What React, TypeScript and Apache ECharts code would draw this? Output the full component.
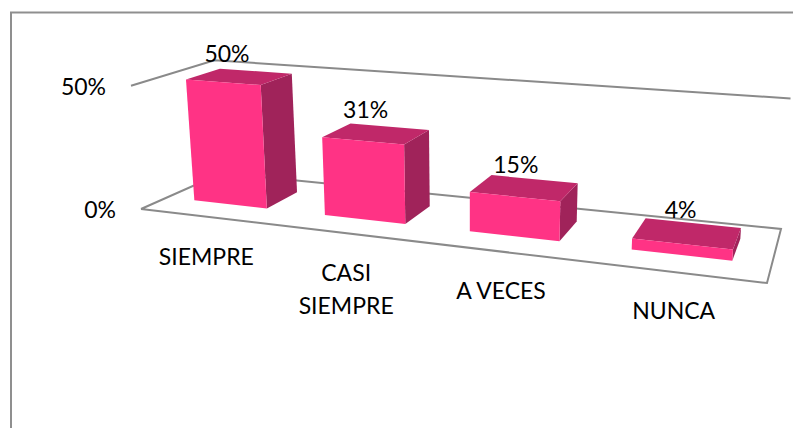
import React, { useEffect, useRef } from "react";
import * as echarts from "echarts";

const categories = ["SIEMPRE", "CASI\nSIEMPRE", "A VECES", "NUNCA"];
const percentValues = [50, 31, 15, 4];
const axisTicks = [0, 50];

const WIDTH = 793;
const HEIGHT = 428;
const AXIS_MAX = 50;
const FONT = "Lato, Carlito, sans-serif";
const LINE = "#8a8a8a";
const FRONT = "#ff3385";
const TOP = "#c02869";
const SIDE = "#a0235a";
const BAR_HALF = 0.07;
const DEPTH_FRONT = 0.3;
const DEPTH_BACK = 0.72;

type P = [number, number];

// Projective map of the unit square on a quad (front-left, front-right, back-right, back-left).
function quadMap(p0: P, p1: P, p2: P, p3: P) {
  const dx1 = p1[0] - p2[0], dy1 = p1[1] - p2[1];
  const dx2 = p3[0] - p2[0], dy2 = p3[1] - p2[1];
  const sx = p0[0] - p1[0] + p2[0] - p3[0], sy = p0[1] - p1[1] + p2[1] - p3[1];
  const det = dx1 * dy2 - dx2 * dy1;
  const g = (sx * dy2 - dx2 * sy) / det;
  const h = (dx1 * sy - sx * dy1) / det;
  const a = p1[0] - p0[0] + g * p1[0], b = p3[0] - p0[0] + h * p3[0];
  const d = p1[1] - p0[1] + g * p1[1], e = p3[1] - p0[1] + h * p3[1];
  return (u: number, v: number): P => {
    const w = g * u + h * v + 1;
    return [(a * u + b * v + p0[0]) / w, (d * u + e * v + p0[1]) / w];
  };
}

const floorMap = quadMap([141, 209], [767, 283], [781, 229], [222, 173]);

// u: across the categories, v: depth, t: share of the value axis.
// The plane at full height is an affine shift of the floor: a slight outward lean and a height
// that grows towards the viewer.
function project(u: number, v: number, t: number): P {
  const [x, y] = floorMap(u, v);
  const lean = -10 + 0.0305 * (x - 141);
  const rise = 60.3 + 0.002 * x + 0.3 * y;
  return [x + lean * t, y - rise * t];
}

function fractions(api: any, params: any, cat: number, value: number) {
  const cs = params.coordSys;
  const c = api.coord([cat, value]);
  return { u: (c[0] - cs.x) / cs.width, t: (cs.y + cs.height - c[1]) / cs.height };
}

const textStyle = (text: string, extra: any = {}) => ({
  text,
  fontFamily: FONT,
  fontSize: 23,
  fill: "#000",
  align: "center",
  verticalAlign: "middle",
  ...extra,
});

function renderTick(params: any, api: any) {
  const value = api.value(0);
  const cs = params.coordSys;
  const t = (cs.y + cs.height - api.coord([0, value])[1]) / cs.height;
  const lineStyle = { stroke: LINE, lineWidth: 2, fill: "none" };
  const corners = t === 0
    ? [project(0, 0, 0), project(1, 0, 0), project(1, 1, 0), project(0, 1, 0), project(0, 0, 0)]
    : [project(0, 0, t), project(0, 1, t), project(1, 1, t)];
  const anchor = project(0, 0, t);
  return {
    type: "group",
    children: [
      { type: "polyline", shape: { points: corners }, style: lineStyle },
      {
        type: "text",
        style: textStyle(`${value}%`, { x: anchor[0] - 25, y: anchor[1], align: "right" }),
      },
    ],
  };
}

function renderBar(params: any, api: any) {
  const cat = api.value(0);
  const value = api.value(1);
  const { u, t } = fractions(api, params, cat, value);
  const l = u - BAR_HALF, r = u + BAR_HALF + 0.002;
  const f = DEPTH_FRONT, b = DEPTH_BACK;
  const poly = (points: P[], fill: string) => ({ type: "polygon", shape: { points }, style: { fill } });
  const topCentre = project(u, (f + b) / 2, t);
  const base = project(u, f, 0);
  return {
    type: "group",
    children: [
      poly([project(r, f, 0), project(r, b, 0), project(r, b, t), project(r, f, t)], SIDE),
      poly([project(l, f, t), project(r, f, t), project(r, b, t), project(l, b, t)], TOP),
      poly([project(l, f, 0), project(r, f, 0), project(r, f, t), project(l, f, t)], FRONT),
      {
        type: "text",
        style: textStyle(`${value}%`, { x: topCentre[0] - 13 + 8 * u, y: topCentre[1] - 24 }),
      },
      {
        type: "text",
        style: textStyle(categories[cat], {
          x: base[0] - 26 + 22 * u,
          y: base[1] + 34.3 + 5.3 * u,
          verticalAlign: "top",
          lineHeight: 33,
        }),
      },
    ],
  };
}

export default function App() {
  const ref = useRef<HTMLDivElement>(null);
  useEffect(() => {
    document.body.style.margin = "0";
    const chart = echarts.init(ref.current!, null, { renderer: "svg" });
    chart.setOption({
      animation: false,
      backgroundColor: "#fff",
      grid: { left: 0, right: 0, top: 0, bottom: 0 },
      xAxis: { type: "category", data: categories, show: false },
      yAxis: { type: "value", min: 0, max: AXIS_MAX, show: false },
      graphic: [
        {
          type: "polyline",
          z: 0,
          shape: { points: [[11, HEIGHT], [11, 12.5], [WIDTH, 12.5]] },
          style: { stroke: "#8f8f8f", lineWidth: 2, fill: "none" },
        },
      ],
      series: [
        {
          type: "custom",
          z: 2,
          coordinateSystem: "cartesian2d",
          data: axisTicks.map((v) => [v]),
          encode: { y: 0 },
          renderItem: renderTick,
          silent: true,
        },
        {
          type: "custom",
          z: 3,
          coordinateSystem: "cartesian2d",
          data: percentValues.map((v, i) => [i, v]),
          encode: { x: 0, y: 1 },
          renderItem: renderBar,
          silent: true,
        },
      ],
    });
    return () => chart.dispose();
  }, []);
  return <div ref={ref} style={{ width: WIDTH, height: HEIGHT }} />;
}
